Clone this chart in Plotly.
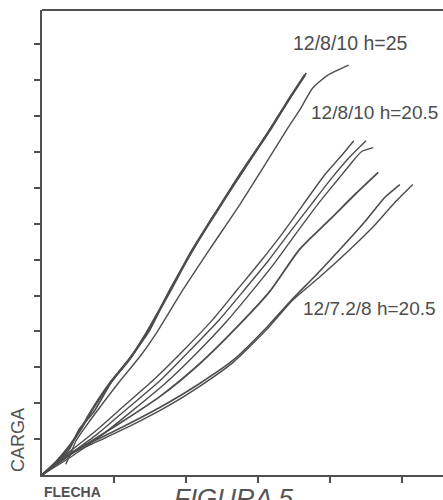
import plotly.graph_objects as go

# --- data (FLECHA vs CARGA, arbitrary units) ---
a1_x = [0, .18, .36, .53, .69, .94, 1.22, 1.46, 1.78, 2.08, 2.40, 2.75, 3.17, 3.44, 3.65]
a1_y = [0, .33, .75, 1.25, 1.80, 2.55, 3.24, 3.99, 5.13, 6.24, 7.26, 8.37, 9.62, 10.50, 11.14]
a2_x = [0, .20, .38, .52, .72, .96, 1.20, 1.49, 1.76, 2.10, 2.38, 2.77, 3.15, 3.46, 3.67]
a2_y = [0, .35, .72, 1.28, 1.76, 2.58, 3.20, 4.02, 5.10, 6.28, 7.22, 8.40, 9.58, 10.55, 11.20]
a3_x = [.33, .40, .47, .61, .76, 1.08, 1.36, 1.60, 1.92, 2.33, 2.75, 3.10, 3.40, 3.58, 3.76, 3.97, 4.26]
a3_y = [.30, .61, .94, 1.36, 1.77, 2.61, 3.30, 3.99, 5.04, 6.29, 7.54, 8.65, 9.62, 10.17, 10.78, 11.14, 11.42]

b1_x = [0, .36, .74, 1.13, 1.54, 1.96, 2.38, 2.72, 3.04, 3.35, 3.63, 3.93, 4.17, 4.33]
b1_y = [0, .61, 1.22, 1.91, 2.63, 3.46, 4.35, 5.18, 5.96, 6.76, 7.54, 8.37, 8.92, 9.31]
b2_x = [0, .39, .78, 1.19, 1.63, 2.04, 2.46, 2.82, 3.14, 3.44, 3.74, 4.04, 4.28, 4.50]
b2_y = [0, .58, 1.16, 1.86, 2.61, 3.44, 4.32, 5.18, 5.96, 6.76, 7.54, 8.31, 8.87, 9.31]
b3_x = [0, .42, .83, 1.26, 1.71, 2.14, 2.56, 2.92, 3.24, 3.54, 3.83, 4.11, 4.28, 4.44, 4.60]
b3_y = [0, .53, 1.11, 1.80, 2.55, 3.38, 4.27, 5.13, 5.93, 6.76, 7.54, 8.23, 8.65, 9.01, 9.12]

c_x = [0, .53, 1.08, 1.64, 2.19, 2.75, 3.17, 3.58, 4.00, 4.35, 4.67]
c_y = [0, .75, 1.44, 2.19, 3.10, 4.21, 5.13, 6.29, 7.12, 7.82, 8.43]

d1_x = [0, .39, .81, 1.22, 1.74, 2.19, 2.65, 3.13, 3.44, 3.82, 4.14, 4.49, 4.76, 4.97]
d1_y = [0, .61, 1.03, 1.44, 2.00, 2.55, 3.19, 4.13, 4.82, 5.60, 6.29, 7.07, 7.73, 8.09]
d2_x = [0, .39, .81, 1.22, 1.74, 2.19, 2.65, 3.13, 3.47, 3.86, 4.28, 4.63, 4.90, 5.15]
d2_y = [0, .58, .97, 1.36, 1.91, 2.47, 3.13, 4.07, 4.85, 5.52, 6.29, 6.98, 7.59, 8.09]

y_ticks = list(range(1, 13))
x_ticks = [1, 2, 3, 4, 5]

labels = ["12/8/10 h=25", "12/8/10 h=20.5", "12/7.2/8 h=20.5"]

INK = "#4d4d4d"
series = [
    (a1_x, a1_y, 2.4), (a2_x, a2_y, 1.8), (a3_x, a3_y, 1.4),
    (b1_x, b1_y, 1.4), (b2_x, b2_y, 1.4), (b3_x, b3_y, 1.4),
    (c_x, c_y, 1.8),
    (d1_x, d1_y, 1.6), (d2_x, d2_y, 1.4),
]

fig = go.Figure()
for xs, ys, w in series:
    fig.add_trace(go.Scatter(x=xs, y=ys, mode="lines",
                             line=dict(color=INK, width=w, shape="spline", smoothing=0.6),
                             showlegend=False, hoverinfo="skip"))

W, H = 443, 500
L, R, T, B = 42, 0, 10, 25
pw, ph = W - L - R, H - T - B

def px(xp):
    return (xp - L) / pw

def py(yp):
    return (H - B - yp) / ph

font = "Liberation Sans, Arial, Helvetica, sans-serif"
ann = [
    dict(text=labels[0], x=px(350), y=py(43), xanchor="center", yanchor="middle", size=19.5),
    dict(text=labels[1], x=px(309), y=py(112), xanchor="left", yanchor="middle", size=19),
    dict(text=labels[2], x=px(301), y=py(308), xanchor="left", yanchor="middle", size=19),
]
for a in ann:
    fig.add_annotation(text=a["text"], x=a["x"], y=a["y"], xref="paper", yref="paper",
                       xanchor=a["xanchor"], yanchor=a["yanchor"], showarrow=False,
                       font=dict(family=font, size=a["size"], color=INK))

fig.add_annotation(text="CARGA", x=px(18), y=py(440), xref="paper", yref="paper",
                   textangle=-90, showarrow=False, xanchor="center", yanchor="middle",
                   font=dict(family=font, size=18, color="#555555"))
fig.add_annotation(text="<b>FLECHA</b>", x=px(42), y=py(492), xref="paper", yref="paper",
                   showarrow=False, xanchor="left", yanchor="middle",
                   font=dict(family=font, size=14, color="#505050"))
fig.add_annotation(text="<i>FIGURA 5</i>", x=px(233), y=py(498), xref="paper", yref="paper",
                   showarrow=False, xanchor="center", yanchor="middle",
                   font=dict(family=font, size=26, color="#555555"))

# top frame line
fig.add_shape(type="line", xref="paper", yref="paper", x0=0, x1=1, y0=1, y1=1,
              line=dict(color="#505050", width=2))

fig.update_xaxes(range=[0, pw / 72.0], showgrid=False, zeroline=False,
                 showline=True, linecolor="#505050", linewidth=2,
                 ticks="outside", tickvals=x_ticks, ticklen=6, tickwidth=1.5,
                 tickcolor="#505050", showticklabels=False)
fig.update_yaxes(range=[0, ph / 35.9], showgrid=False, zeroline=False,
                 showline=True, linecolor="#505050", linewidth=2,
                 ticks="outside", tickvals=y_ticks, ticklen=6, tickwidth=1.5,
                 tickcolor="#505050", showticklabels=False)

fig.update_layout(width=W, height=H, margin=dict(l=L, r=R, t=T, b=B),
                  paper_bgcolor="white", plot_bgcolor="white")

fig.write_html("out.html", config={"displayModeBar": False},
               post_script="document.body.style.margin='0';document.body.style.overflow='hidden';")
